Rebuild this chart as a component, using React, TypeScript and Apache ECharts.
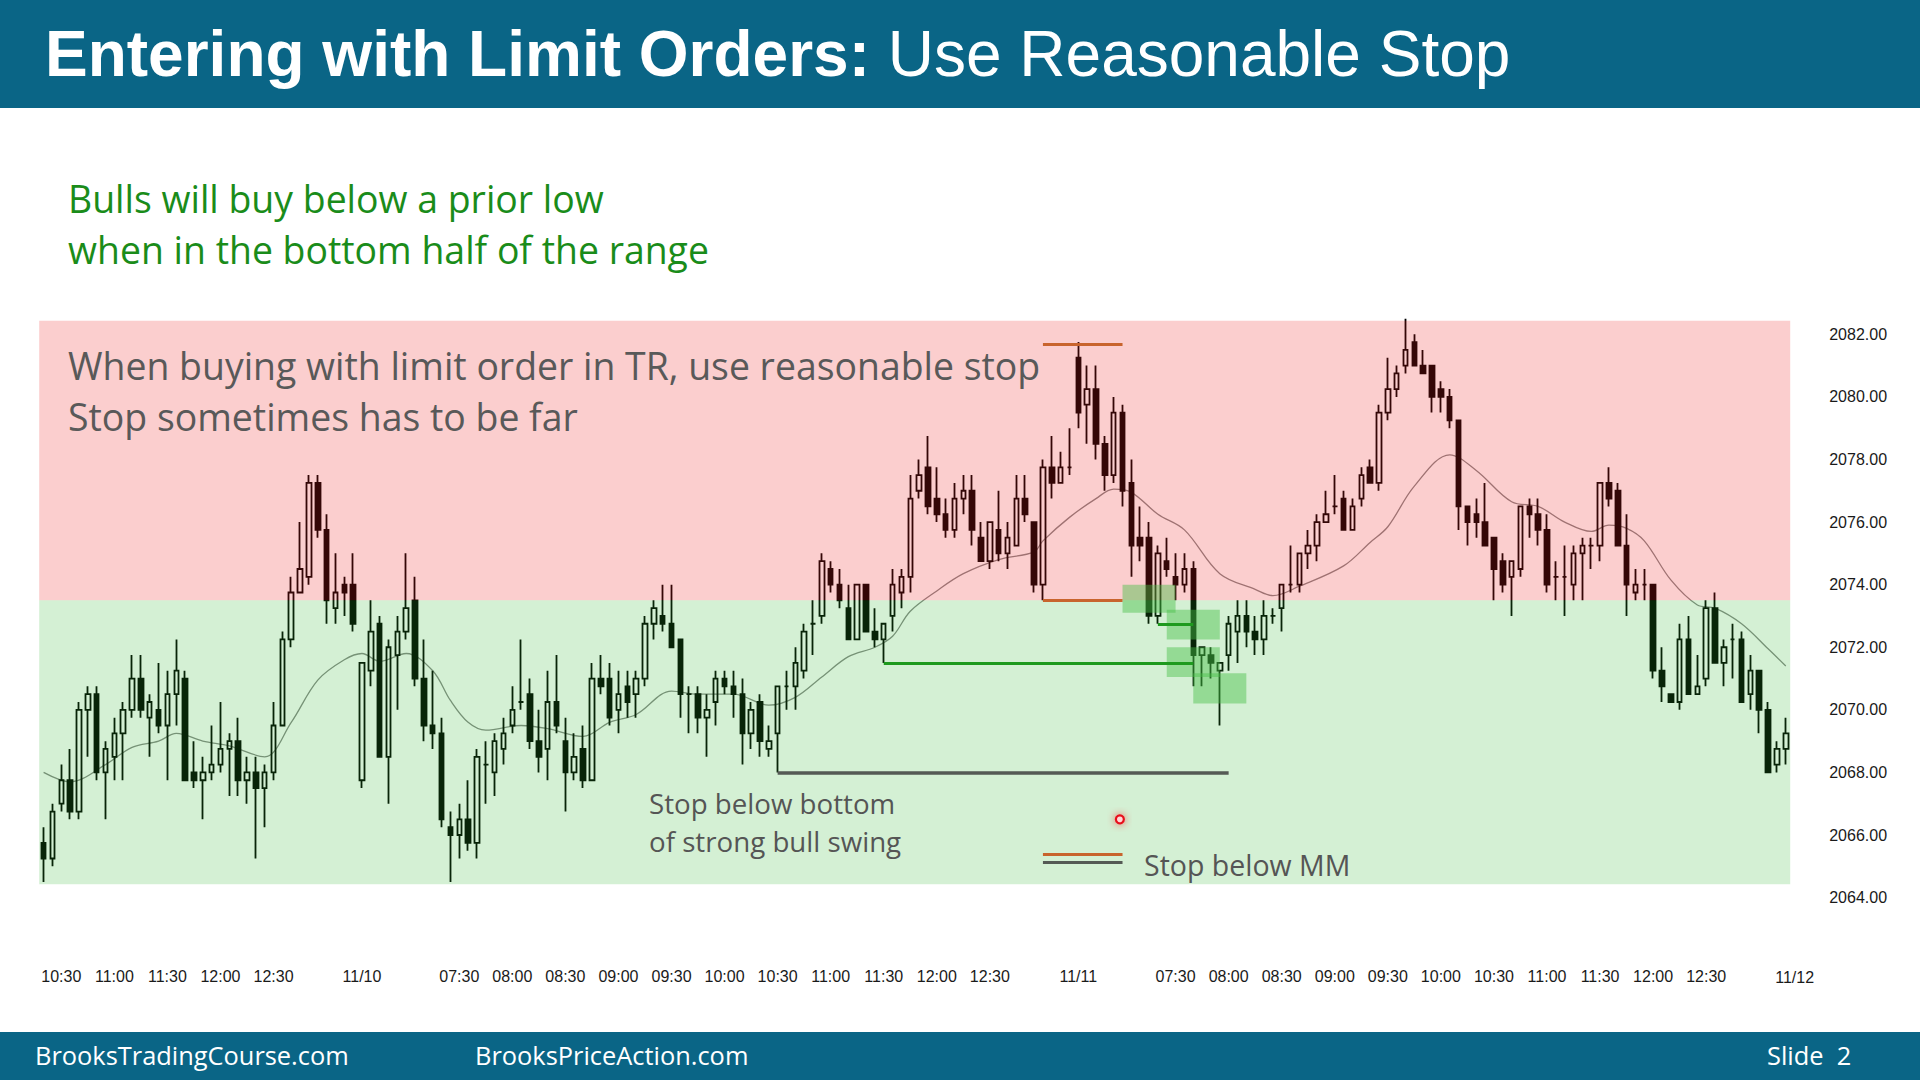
import { useEffect, useRef } from 'react';
import * as echarts from 'echarts';

// ---- DATA: 5-minute bars, each [open, close, low, high] ----
const day1Bars: number[][] = [
  [2065.75, 2065.25, 2064.5, 2066.25], [2065.25, 2066.75, 2065.0, 2067.0], [2067.0, 2067.75, 2066.75, 2068.25],
  [2067.75, 2066.75, 2066.5, 2068.75], [2066.75, 2070.0, 2066.5, 2070.25], [2070.0, 2070.5, 2068.5, 2070.75],
  [2070.5, 2068.0, 2067.75, 2070.75], [2068.0, 2068.75, 2066.5, 2069.0], [2068.5, 2069.25, 2067.75, 2069.75],
  [2069.25, 2070.0, 2067.75, 2070.25], [2070.0, 2071.0, 2069.75, 2071.75], [2071.0, 2070.0, 2069.75, 2071.75],
  [2069.75, 2070.25, 2068.5, 2070.5], [2070.0, 2069.5, 2069.25, 2071.5], [2069.5, 2070.5, 2067.75, 2071.25],
  [2070.5, 2071.25, 2069.5, 2072.25], [2071.0, 2067.75, 2067.75, 2071.25], [2068.0, 2067.75, 2067.5, 2069.0],
  [2067.75, 2068.0, 2066.5, 2068.5], [2068.0, 2068.25, 2067.75, 2069.5], [2068.25, 2068.75, 2068.0, 2070.25],
  [2068.75, 2069.0, 2067.25, 2069.25], [2069.0, 2067.75, 2067.25, 2069.75], [2067.75, 2068.0, 2067.0, 2068.5],
  [2068.0, 2067.5, 2065.25, 2068.5], [2067.5, 2068.0, 2066.25, 2068.25], [2068.0, 2069.5, 2067.75, 2070.25],
  [2069.5, 2072.25, 2069.5, 2072.5], [2072.25, 2073.75, 2072.0, 2074.25], [2073.75, 2074.5, 2073.75, 2076.0],
  [2074.25, 2077.25, 2074.0, 2077.5], [2077.25, 2075.75, 2075.5, 2077.5], [2075.75, 2073.5, 2072.75, 2076.25],
  [2073.25, 2073.75, 2072.75, 2075.0], [2074.0, 2073.75, 2073.0, 2074.25], [2074.0, 2072.75, 2072.5, 2075.0],
];
const day2Bars: number[][] = [
  [2067.75, 2071.5, 2067.5, 2071.5], [2071.25, 2072.5, 2070.75, 2073.5], [2072.75, 2068.5, 2068.5, 2073.0],
  [2068.5, 2072.0, 2067.0, 2072.25], [2071.75, 2072.5, 2070.0, 2073.0], [2072.5, 2073.25, 2072.25, 2075.0],
  [2073.5, 2071.0, 2070.75, 2074.25], [2071.0, 2069.5, 2069.0, 2072.25], [2069.5, 2069.25, 2068.75, 2071.25],
  [2069.25, 2066.5, 2066.25, 2069.75], [2066.25, 2066.0, 2064.5, 2066.75], [2066.0, 2066.5, 2065.25, 2067.0],
  [2066.5, 2065.75, 2065.5, 2067.75], [2065.75, 2068.5, 2065.25, 2068.75], [2068.25, 2068.25, 2067.0, 2069.0],
  [2068.0, 2069.0, 2067.25, 2069.25], [2068.75, 2069.25, 2068.25, 2069.75], [2069.5, 2070.0, 2069.25, 2070.75],
  [2070.25, 2070.25, 2070.0, 2072.25], [2070.5, 2069.0, 2068.75, 2071.0], [2069.0, 2068.5, 2068.0, 2070.0],
  [2068.75, 2070.25, 2067.75, 2071.25], [2070.25, 2069.5, 2069.25, 2071.75], [2069.0, 2068.0, 2066.75, 2069.75],
  [2068.0, 2068.5, 2067.75, 2069.25], [2068.75, 2067.75, 2067.5, 2069.5], [2067.75, 2071.0, 2067.75, 2071.5],
  [2071.0, 2070.75, 2070.5, 2071.75], [2071.0, 2069.75, 2069.5, 2071.5], [2070.0, 2070.5, 2069.25, 2071.25],
  [2070.75, 2070.25, 2069.75, 2071.25], [2070.5, 2071.0, 2069.75, 2071.25], [2071.0, 2072.75, 2070.75, 2073.0],
  [2072.75, 2073.25, 2072.25, 2073.5], [2073.0, 2072.75, 2072.5, 2074.0], [2072.75, 2072.0, 2072.0, 2074.0],
  [2072.25, 2070.5, 2069.75, 2072.25], [2070.5, 2070.5, 2069.25, 2070.75], [2070.5, 2069.75, 2069.25, 2070.75],
  [2069.75, 2070.0, 2068.5, 2070.5], [2070.25, 2071.0, 2069.5, 2071.25], [2071.0, 2070.75, 2070.5, 2071.25],
  [2070.75, 2070.5, 2069.75, 2071.25], [2070.5, 2069.25, 2068.25, 2071.0], [2069.25, 2070.0, 2068.75, 2070.25],
  [2070.25, 2069.0, 2068.5, 2070.5], [2068.75, 2069.0, 2068.5, 2069.5], [2069.25, 2070.75, 2068.0, 2070.75],
  [2070.75, 2070.75, 2070.0, 2071.25], [2070.75, 2071.5, 2070.0, 2072.0], [2071.25, 2072.5, 2071.0, 2072.75],
  [2072.75, 2072.75, 2071.75, 2073.5], [2073.0, 2074.75, 2072.75, 2075.0], [2074.5, 2074.0, 2073.75, 2074.75],
  [2074.0, 2073.5, 2073.25, 2074.5], [2073.25, 2072.25, 2072.25, 2074.0], [2072.25, 2074.0, 2072.25, 2074.0],
  [2074.0, 2072.5, 2072.5, 2074.0], [2072.5, 2072.25, 2072.0, 2073.25], [2072.25, 2072.75, 2071.5, 2072.75],
  [2073.0, 2074.0, 2072.5, 2074.5], [2073.75, 2074.25, 2073.25, 2074.5], [2074.25, 2076.75, 2073.75, 2077.5],
  [2077.0, 2077.5, 2076.75, 2078.0], [2077.75, 2076.5, 2076.25, 2078.75], [2076.75, 2076.25, 2076.0, 2077.75],
  [2076.25, 2075.75, 2075.5, 2076.75], [2075.75, 2076.75, 2075.5, 2077.25], [2076.75, 2077.0, 2076.25, 2077.5],
  [2077.0, 2075.75, 2075.25, 2077.5], [2075.5, 2074.75, 2074.75, 2076.0], [2074.75, 2076.0, 2074.5, 2076.0],
  [2075.75, 2075.0, 2074.75, 2077.0], [2075.0, 2075.5, 2074.5, 2076.0], [2075.25, 2076.75, 2075.25, 2077.5],
  [2076.75, 2076.25, 2076.0, 2077.5], [2076.0, 2074.0, 2073.75, 2076.0], [2074.0, 2077.75, 2073.5, 2078.0],
  [2077.75, 2077.25, 2076.75, 2078.75], [2077.25, 2077.75, 2077.25, 2078.25], [2077.75, 2077.75, 2077.5, 2079.0],
];
const day3Bars: number[][] = [
  [2081.25, 2079.5, 2079.0, 2081.75], [2079.75, 2080.25, 2078.5, 2081.0], [2080.25, 2078.5, 2078.0, 2081.0],
  [2078.5, 2077.5, 2077.0, 2078.75], [2077.5, 2079.5, 2077.25, 2080.0], [2079.5, 2077.0, 2076.5, 2079.75],
  [2077.25, 2075.25, 2074.25, 2078.0], [2075.5, 2075.25, 2074.75, 2076.5], [2075.5, 2073.0, 2072.75, 2076.0],
  [2073.0, 2075.0, 2072.75, 2075.25], [2074.75, 2074.5, 2074.25, 2075.5], [2074.25, 2074.0, 2073.5, 2075.0],
  [2074.0, 2074.5, 2073.75, 2075.0], [2074.5, 2071.75, 2070.75, 2074.75], [2071.75, 2072.0, 2070.75, 2072.0],
  [2071.75, 2071.5, 2071.0, 2072.0], [2071.25, 2071.5, 2069.5, 2071.5], [2071.75, 2072.75, 2071.25, 2073.0],
  [2072.5, 2073.0, 2071.5, 2073.5], [2073.0, 2072.5, 2072.0, 2073.5], [2072.5, 2072.25, 2071.75, 2073.0],
  [2072.25, 2073.0, 2071.75, 2073.5], [2073.0, 2073.0, 2072.75, 2073.25], [2073.25, 2074.0, 2072.5, 2074.0],
  [2074.0, 2074.0, 2073.75, 2075.25], [2074.0, 2075.0, 2073.75, 2075.0], [2075.0, 2075.25, 2074.5, 2075.75],
  [2075.25, 2076.0, 2074.75, 2076.25], [2076.0, 2076.25, 2076.0, 2077.0], [2076.5, 2076.5, 2076.25, 2077.5],
  [2076.75, 2075.75, 2075.75, 2077.0], [2075.75, 2076.5, 2075.75, 2076.75], [2076.75, 2077.5, 2076.5, 2077.75],
  [2077.75, 2077.25, 2077.25, 2078.0], [2077.25, 2079.5, 2077.0, 2079.75], [2079.5, 2080.25, 2079.25, 2081.25],
  [2080.25, 2080.75, 2080.0, 2081.0], [2081.0, 2081.5, 2080.75, 2082.5], [2081.75, 2081.0, 2081.0, 2082.0],
  [2081.0, 2080.75, 2080.75, 2081.5], [2081.0, 2080.0, 2079.5, 2081.0], [2080.25, 2080.0, 2079.5, 2080.5],
  [2080.0, 2079.25, 2079.0, 2080.25], [2079.25, 2076.5, 2075.75, 2079.25], [2076.5, 2076.0, 2075.25, 2076.5],
  [2076.25, 2076.0, 2075.5, 2076.75], [2076.0, 2075.25, 2075.25, 2077.25], [2075.5, 2074.5, 2073.5, 2075.5],
  [2074.75, 2074.0, 2073.75, 2075.0], [2074.25, 2074.75, 2073.0, 2074.75], [2074.5, 2076.5, 2074.25, 2076.5],
  [2076.5, 2076.25, 2075.5, 2076.75], [2076.25, 2075.75, 2075.25, 2076.75], [2075.75, 2074.0, 2073.75, 2076.25],
  [2074.25, 2074.25, 2073.5, 2074.75], [2074.25, 2074.25, 2073.0, 2075.25], [2074.0, 2075.0, 2073.5, 2075.25],
  [2075.0, 2075.25, 2073.5, 2075.5], [2075.25, 2075.25, 2074.5, 2075.5], [2075.25, 2077.25, 2074.75, 2077.25],
  [2077.25, 2076.75, 2076.5, 2077.75], [2077.0, 2075.25, 2075.25, 2077.25], [2075.25, 2074.0, 2073.0, 2076.25],
  [2073.75, 2074.0, 2073.5, 2074.5], [2074.0, 2074.0, 2073.5, 2074.5], [2074.0, 2071.25, 2071.0, 2074.0],
  [2071.25, 2070.75, 2070.25, 2072.0], [2070.5, 2070.25, 2070.25, 2070.5], [2070.25, 2072.25, 2070.0, 2072.75],
  [2072.25, 2070.5, 2070.5, 2073.0], [2070.5, 2070.75, 2070.5, 2071.75], [2071.0, 2073.25, 2070.75, 2073.5],
  [2073.25, 2071.5, 2071.5, 2073.75], [2071.5, 2072.0, 2070.75, 2072.25], [2072.25, 2072.25, 2071.0, 2072.75],
  [2072.25, 2070.25, 2070.25, 2072.5], [2070.5, 2071.25, 2070.0, 2071.75], [2071.25, 2070.0, 2069.25, 2071.25],
  [2070.0, 2068.0, 2068.0, 2070.25], [2068.25, 2068.75, 2068.0, 2069.0], [2068.75, 2069.25, 2068.25, 2069.75],
];

// sessions (dates and close time of each session's first 5-min bar)
const sessionDates = ['11/09', '11/10', '11/11'];
const sessionFirstBarTimes = ['10:20', '06:35', '06:35'];
const nextSessionDate = '11/12';
const shownTimes = ['07:30', '08:00', '08:30', '09:00', '09:30', '10:00', '10:30', '11:00', '11:30', '12:00', '12:30'];

// y axis ticks
const yMin = 2062;
const yMax = 2084;
const yStep = 2;
const yLabelLow = 2064;
const yLabelHigh = 2082;

// 20-bar EMA: [bar index, value]
const emaPoints: number[][] = [
  [0, 2068.0], [3, 2067.7], [7, 2068.25], [10, 2068.8], [13, 2069.0], [15, 2069.25], [18, 2069.0],
  [21, 2068.85], [25, 2068.5], [28, 2069.6], [31, 2070.95], [34, 2071.6], [36, 2071.8], [38, 2071.55],
  [41, 2071.8], [44, 2071.25], [46, 2070.3], [48, 2069.6], [50, 2069.35], [54, 2069.5], [57, 2069.4],
  [61, 2069.15], [64, 2069.6], [67, 2069.85], [71, 2070.6], [74, 2070.5], [78, 2070.5], [82, 2070.15],
  [85, 2070.4], [88, 2071.05], [91, 2071.7], [94, 2072.0], [96, 2072.35], [98, 2073.15], [101, 2073.8],
  [104, 2074.35], [108, 2074.8], [112, 2075.05], [113, 2075.4], [116, 2076.15], [119, 2076.75],
  [121, 2077.05], [123, 2076.95], [126, 2076.25], [129, 2075.75], [133, 2074.35], [137, 2073.85],
  [139, 2073.65], [142, 2073.95], [147, 2074.6], [150, 2075.35], [152, 2075.85], [155, 2077.15],
  [159, 2078.15], [162, 2077.65], [166, 2076.65], [169, 2076.5], [172, 2076.0], [175, 2075.7],
  [177, 2075.9], [179, 2075.8], [181, 2075.4], [184, 2074.15], [187, 2073.35], [189, 2073.25],
  [192, 2072.75], [195, 2071.95], [197, 2071.4],
];

// trading range halves
const rangeTop = 2082.43;
const rangeMid = 2073.5;
const rangeBottom = 2064.43;

// annotation segments: [from bar, to bar, price]
const orangeStops = [[113, 122, 2081.67], [113, 122, 2073.5]];
const greenStops = [[95, 130, 2071.5], [126, 130, 2072.75]];
const grayStops = [[83, 134, 2068.0]];
const keyOrange = [[113, 122, 2065.38]];
const keyGray = [[113, 122, 2065.12]];
// buy zones: [from bar, to bar, low price, high price]
const buyZones = [
  [122, 128, 2073.1, 2074.0],
  [127, 133, 2072.25, 2073.2],
  [127, 133, 2071.05, 2072.0],
  [130, 136, 2070.2, 2071.17],
];
const pointerSpot = [121.7, 2066.5];

const titleBold = 'Entering with Limit Orders:';
const titleRest = ' Use Reasonable Stop';
const greenNote = ['Bulls will buy below a prior low', 'when in the bottom half of the range'];
const grayNote = ['When buying with limit order in TR, use reasonable stop', 'Stop sometimes has to be far'];
const swingNote = ['Stop below bottom', 'of strong bull swing'];
const mmNote = 'Stop below MM';
const footer = ['BrooksTradingCourse.com', 'BrooksPriceAction.com', 'Slide  2'];

const TEAL = '#0a6586';
const SANS = '"Liberation Sans", Arial, sans-serif';
const HUM = '"Open Sans", "Noto Sans", sans-serif';

function pad(n: number) {
  return n < 10 ? '0' + n : '' + n;
}

export default function App() {
  const ref = useRef<HTMLDivElement>(null);
  useEffect(() => {
    document.body.style.margin = '0';
    const el = ref.current!;
    const chart = echarts.init(el, undefined, { renderer: 'svg' });

    const sessions = [day1Bars, day2Bars, day3Bars];
    const categories: string[] = [];
    const firstIdx = new Set<number>();
    const ohlc: number[][] = [];
    sessions.forEach((bars, s) => {
      const [hh, mm] = sessionFirstBarTimes[s].split(':').map(Number);
      const start = hh * 60 + mm;
      if (s > 0) firstIdx.add(categories.length);
      bars.forEach((b, i) => {
        const t = start + 5 * i;
        categories.push(sessionDates[s] + ' ' + pad(Math.floor(t / 60)) + ':' + pad(t % 60));
        ohlc.push(b);
      });
    });

    const seg = (arr: number[][], color: string, width: number) =>
      arr.map((a) => [
        { coord: [a[0], a[2]], lineStyle: { color, width, type: 'solid' } },
        { coord: [a[1], a[2]], lineStyle: { color, width, type: 'solid' } },
      ]);

    const option: any = {
      animation: false,
      backgroundColor: '#ffffff',
      grid: { left: 39.2, right: 129.8, top: 271.7, bottom: 119.8 },
      xAxis: {
        type: 'category',
        data: categories,
        boundaryGap: true,
        axisLine: { show: false },
        axisTick: { show: false },
        splitLine: { show: false },
        axisLabel: {
          interval: 0,
          margin: 8,
          color: '#1a1a1a',
          fontFamily: SANS,
          fontSize: 16,
          formatter: (v: string, i: number) => {
            const [d, t] = v.split(' ');
            if (firstIdx.has(i)) return d;
            return shownTimes.includes(t) ? t : '';
          },
        },
      },
      yAxis: {
        type: 'value',
        position: 'right',
        min: yMin,
        max: yMax,
        interval: yStep,
        axisLine: { show: false },
        axisTick: { show: false },
        splitLine: { show: false },
        axisLabel: {
          margin: 39,
          align: 'left',
          color: '#1a1a1a',
          fontFamily: SANS,
          fontSize: 16,
          formatter: (v: number) => (v < yLabelLow || v > yLabelHigh ? '' : v.toFixed(2)),
        },
      },
      series: [
        {
          type: 'candlestick',
          data: ohlc,
          barWidth: 5,
          z: 2,
          itemStyle: {
            color: 'rgba(0,0,0,0)',
            color0: '#000000',
            borderColor: '#000000',
            borderColor0: '#000000',
            borderColorDoji: '#000000',
            borderWidth: 1.8,
          },
          markArea: {
            silent: true,
            z: 3,
            data: [
              [{ yAxis: rangeMid, itemStyle: { color: 'rgba(235,30,30,0.22)' } }, { yAxis: rangeTop }],
              [{ yAxis: rangeBottom, itemStyle: { color: 'rgba(40,180,40,0.2)' } }, { yAxis: rangeMid }],
            ],
          },
          markLine: {
            silent: true,
            z: 6,
            symbol: ['none', 'none'],
            label: { show: false },
            data: [
              ...seg(orangeStops, '#c8642d', 3),
              ...seg(greenStops, '#1e9a1e', 3),
              ...seg(grayStops, '#555a55', 3.5),
              ...seg(keyOrange, '#c8642d', 3),
              ...seg(keyGray, '#555a55', 3),
            ],
          },
        },
        {
          type: 'line',
          data: emaPoints,
          smooth: 0.35,
          showSymbol: false,
          z: 2,
          lineStyle: { color: '#8a8a8a', width: 1.3 },
          markArea: {
            silent: true,
            z: 4,
            itemStyle: { color: 'rgba(70,190,70,0.45)' },
            data: buyZones.map((b) => [{ coord: [b[0], b[3]] }, { coord: [b[1], b[2]] }]),
          },
        },
      ],
    };
    chart.setOption(option);

    const toPx = (v: number[]) => chart.convertToPixel({ gridIndex: 0 }, v) as number[];
    const p196 = toPx([196, yMin]);
    const p197 = toPx([197, yMin]);
    const band = p197[0] - p196[0];
    const dotBase = toPx([Math.floor(pointerSpot[0]), pointerSpot[1]]);
    const dotX = dotBase[0] + (pointerSpot[0] - Math.floor(pointerSpot[0])) * band;

    const txt = (x: number, y: number, text: string, size: number, fill: string, family = HUM, weight = 'normal', align = 'left') => ({
      type: 'text',
      x,
      y,
      z: 100,
      style: {
        text,
        fill,
        fontSize: size,
        fontFamily: family,
        fontWeight: weight,
        align,
        textAlign: align,
        verticalAlign: 'middle',
        textVerticalAlign: 'middle',
      },
    });

    chart.setOption({
      graphic: [
        { type: 'rect', x: 0, y: 0, z: 90, shape: { width: 1920, height: 108 }, style: { fill: TEAL } },
        {
          type: 'text',
          x: 45,
          y: 54,
          z: 100,
          style: {
            text: '{b|' + titleBold + '}{r|' + titleRest + '}',
            verticalAlign: 'middle',
            textVerticalAlign: 'middle',
            rich: {
              b: { fontFamily: SANS, fontSize: 64, fontWeight: 'bold', fill: '#ffffff', color: '#ffffff' },
              r: { fontFamily: SANS, fontSize: 64, fontWeight: 'normal', fill: '#ffffff', color: '#ffffff' },
            },
          },
        },
        txt(68, 198, greenNote[0], 37.4, '#1a8c1a'),
        txt(68, 249, greenNote[1], 37.4, '#1a8c1a'),
        txt(68, 365, grayNote[0], 37.4, '#595959'),
        txt(68, 416, grayNote[1], 37.4, '#595959'),
        txt(649, 803, swingNote[0], 27.7, '#555555'),
        txt(649, 841, swingNote[1], 27.7, '#555555'),
        txt(1144, 865, mmNote, 28.5, '#555555'),
        txt(p197[0] + band, p197[1] + 8 + 9, nextSessionDate, 16, '#1a1a1a', SANS, 'normal', 'center'),
        {
          type: 'circle',
          x: dotX,
          y: dotBase[1],
          z: 100,
          shape: { r: 4 },
          style: { fill: '#ffd6d6', stroke: '#e8101a', lineWidth: 2.2, shadowBlur: 8, shadowColor: 'rgba(255,0,0,0.6)' },
        },
        { type: 'rect', x: 0, y: 1032, z: 90, shape: { width: 1920, height: 48 }, style: { fill: TEAL } },
        txt(35, 1055, footer[0], 25.4, '#ffffff'),
        txt(475, 1055, footer[1], 25.4, '#ffffff'),
        txt(1767, 1055, footer[2], 25.4, '#ffffff'),
      ],
    });

    return () => chart.dispose();
  }, []);
  return <div ref={ref} style={{ width: 1920, height: 1080 }} />;
}
